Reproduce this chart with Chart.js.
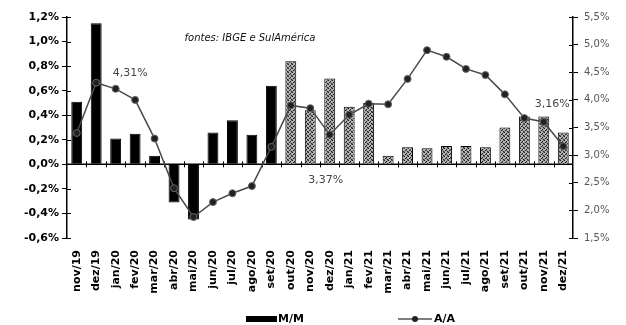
<!DOCTYPE html>
<html>
<head>
<meta charset="utf-8">
<script src="https://cdn.jsdelivr.net/npm/chart.js@4/dist/chart.umd.min.js"></script>
<style>
  html, body { margin: 0; padding: 0; background: #fff; }
  #wrap { width: 626px; height: 325px; }
</style>
</head>
<body>
<div id="wrap"><canvas id="grafico" width="626" height="325"></canvas></div>
<script>
// Dados
const meses = ['nov/19', 'dez/19', 'jan/20', 'fev/20', 'mar/20', 'abr/20', 'mai/20', 'jun/20', 'jul/20',
    'ago/20', 'set/20', 'out/20', 'nov/20', 'dez/20', 'jan/21', 'fev/21', 'mar/21', 'abr/21', 'mai/21',
    'jun/21', 'jul/21', 'ago/21', 'set/21', 'out/21', 'nov/21', 'dez/21'];
const mensal = [0.51, 1.15, 0.21, 0.25, 0.07, -0.31, -0.45, 0.26, 0.36, 0.24, 0.64, 0.84, 0.44, 0.70,
    0.47, 0.50, 0.07, 0.14, 0.13, 0.15, 0.15, 0.14, 0.30, 0.39, 0.39, 0.26];
const anual = [3.40, 4.31, 4.20, 4.00, 3.30, 2.40, 1.88, 2.15, 2.31, 2.44, 3.15, 3.90, 3.85, 3.37,
    3.73, 3.93, 3.92, 4.38, 4.90, 4.78, 4.56, 4.45, 4.10, 3.67, 3.60, 3.16];
const inicioProjecao = 'out/20';
const rotulosAnual = [
    { mes: 'dez/19', texto: '4,31%' },
    { mes: 'dez/20', texto: '3,37%' },
    { mes: 'dez/21', texto: '3,16%' }
];
const fonte = 'fontes: IBGE e SulAmérica';

/**
 * Padrão pontilhado das barras projetadas
 */
function criarPadrao() {
    const c = document.createElement('canvas');
    c.width = 4;
    c.height = 4;
    const g = c.getContext('2d');
    g.fillStyle = '#b4b4b4';
    g.fillRect(0, 0, 4, 4);
    g.fillStyle = '#222';
    g.fillRect(0, 0, 1, 1);
    g.fillRect(2, 1, 1, 1);
    g.fillRect(1, 2, 1, 1);
    g.fillRect(3, 3, 1, 1);
    g.fillStyle = '#6a6a6a';
    g.fillRect(3, 0, 1, 1);
    g.fillRect(0, 3, 1, 1);
    g.fillRect(2, 2, 1, 1);
    return g.createPattern(c, 'repeat');
}

const padrao = criarPadrao();
const corte = meses.indexOf(inicioProjecao);
const coresBarras = meses.map((m, i) => i >= corte ? padrao : '#000');

function pct(v) {
    return v.toFixed(1).replace('.', ',') + '%';
}

/**
 * Linha do zero, marcas internas, rótulos e legenda
 */
const extras = {
    id: 'extras',
    beforeDatasetsDraw(chart) {
        const ctx = chart.ctx;
        const area = chart.chartArea;
        const y0 = chart.scales.y.getPixelForValue(0);
        ctx.save();
        ctx.strokeStyle = '#000';
        ctx.lineWidth = 1.5;
        ctx.beginPath();
        ctx.moveTo(area.left, y0);
        ctx.lineTo(area.right, y0);
        ctx.stroke();
        ctx.lineWidth = 1;
        const passo = (area.right - area.left) / meses.length;
        for (let i = 1; i < meses.length; i++) {
            const px = Math.round(area.left + passo * i) + 0.5;
            ctx.beginPath();
            ctx.moveTo(px, y0 - 3);
            ctx.lineTo(px, y0 + 3);
            ctx.stroke();
        }
        // marcas internas dos eixos verticais
        chart.scales.y.ticks.forEach(t => {
            const py = Math.round(chart.scales.y.getPixelForValue(t.value)) + 0.5;
            ctx.beginPath();
            ctx.moveTo(area.left, py);
            ctx.lineTo(area.left + 4, py);
            ctx.stroke();
        });
        chart.scales.y2.ticks.forEach(t => {
            const py = Math.round(chart.scales.y2.getPixelForValue(t.value)) + 0.5;
            ctx.beginPath();
            ctx.moveTo(area.right - 4, py);
            ctx.lineTo(area.right, py);
            ctx.stroke();
        });
        ctx.restore();
    },
    afterDraw(chart) {
        const ctx = chart.ctx;
        const area = chart.chartArea;
        const x = chart.scales.x;
        const y2 = chart.scales.y2;
        ctx.save();

        // fonte
        ctx.fillStyle = '#111';
        ctx.font = 'italic 10px "DejaVu Sans"';
        ctx.textAlign = 'center';
        ctx.textBaseline = 'middle';
        ctx.fillText(fonte, area.left + 183, area.top + 21);

        // rótulos da linha A/A
        const desloc = [[34, -10], [-4, 45], [-11, -42]];
        ctx.font = '11px "DejaVu Sans"';
        ctx.fillStyle = '#444';
        rotulosAnual.forEach((r, k) => {
            const i = meses.indexOf(r.mes);
            const px = x.getPixelForValue(i) + desloc[k][0];
            const py = y2.getPixelForValue(anual[i]) + desloc[k][1];
            ctx.fillText(r.texto, px, py);
        });

        // legenda
        const ly = 319;
        ctx.fillStyle = '#000';
        ctx.fillRect(246, ly - 3, 31, 6);
        ctx.font = 'bold 11px "DejaVu Sans"';
        ctx.textAlign = 'left';
        ctx.fillText('M/M', 278, ly);
        ctx.strokeStyle = '#555';
        ctx.lineWidth = 1.5;
        ctx.beginPath();
        ctx.moveTo(398, ly);
        ctx.lineTo(432, ly);
        ctx.stroke();
        ctx.fillStyle = '#222';
        ctx.beginPath();
        ctx.arc(415, ly, 3, 0, Math.PI * 2);
        ctx.fill();
        ctx.fillStyle = '#000';
        ctx.fillText('A/A', 434, ly);
        ctx.restore();
    }
};

const ctx = document.getElementById('grafico');
new Chart(ctx, {
    type: 'bar',
    data: {
        labels: meses,
        datasets: [
            {
                type: 'line',
                label: 'A/A',
                data: anual,
                yAxisID: 'y2',
                order: 0,
                borderColor: '#4a4a4a',
                borderWidth: 1.5,
                pointRadius: 3.5,
                pointBackgroundColor: '#222',
                pointBorderColor: '#666',
                pointBorderWidth: 1,
                tension: 0
            },
            {
                label: 'M/M',
                data: mensal,
                yAxisID: 'y',
                order: 1,
                backgroundColor: coresBarras,
                borderColor: '#000',
                borderWidth: 1,
                barPercentage: 0.56,
                categoryPercentage: 1
            }
        ]
    },
    options: {
        responsive: false,
        animation: false,
        layout: { padding: { top: 17, bottom: 0, left: 0, right: 0 } },
        plugins: {
            legend: { display: false },
            tooltip: { enabled: false }
        },
        scales: {
            x: {
                grid: { display: false },
                border: { display: false },
                ticks: {
                    autoSkip: false,
                    maxRotation: 90,
                    minRotation: 90,
                    padding: 4,
                    color: '#000',
                    font: { family: 'DejaVu Sans', size: 11, weight: 'bold' }
                },
                afterFit: function(s) { s.height = 87; }
            },
            y: {
                position: 'left',
                min: -0.6,
                max: 1.2,
                grid: { drawOnChartArea: false, color: '#000', tickLength: 5 },
                border: { color: '#000', width: 1.5 },
                ticks: {
                    stepSize: 0.2,
                    padding: 3,
                    color: '#000',
                    font: { family: 'DejaVu Sans', size: 11, weight: 'bold' },
                    callback: function(v) { return pct(v); }
                },
                afterFit: function(s) { s.width = 67; }
            },
            y2: {
                position: 'right',
                min: 1.5,
                max: 5.5,
                grid: { drawOnChartArea: false, color: '#000', tickLength: 5 },
                border: { color: '#000', width: 1.5 },
                ticks: {
                    stepSize: 0.5,
                    padding: 6,
                    color: '#555',
                    font: { family: 'DejaVu Sans', size: 10 },
                    callback: function(v) { return pct(v); }
                },
                afterFit: function(s) { s.width = 53; }
            }
        }
    },
    plugins: [extras]
});
</script>
</body>
</html>
